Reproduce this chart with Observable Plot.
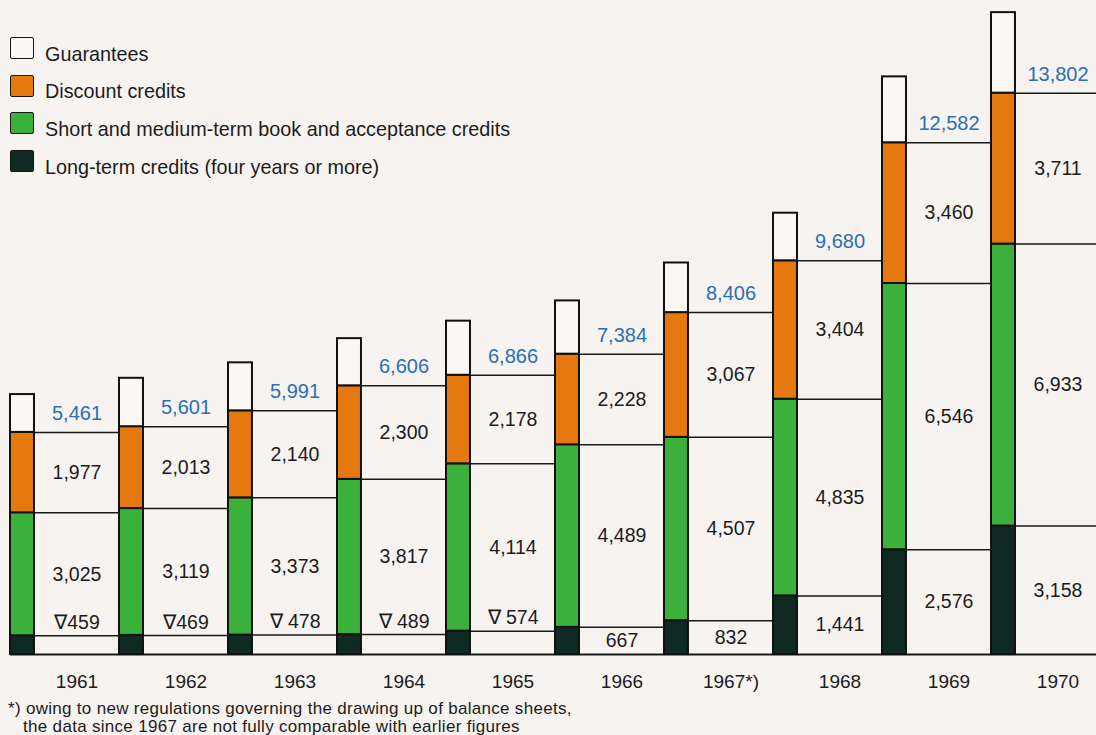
<!DOCTYPE html>
<html><head><meta charset="utf-8">
<script src="https://cdn.jsdelivr.net/npm/d3@7"></script>
<script src="https://cdn.jsdelivr.net/npm/@observablehq/plot@0.6"></script>
<style>
body{margin:0;background:#f7f3f1;font-family:"Liberation Sans",Arial,sans-serif;color:#1c1c1c}
#wrap{position:relative;width:1096px;height:735px;overflow:hidden;background:#f7f3f1}
#chart{position:absolute;left:0;top:0}
.row{position:absolute;left:10px;height:22px;width:600px}
.sw{position:absolute;left:0;top:0;width:22px;height:20px;border:1.6px solid #151515;border-radius:2px}
.lt{position:absolute;left:35px;top:5.5px;font-size:19.8px;line-height:22px;white-space:nowrap}
#foot{position:absolute;left:8px;top:700px;font-size:17px;line-height:18px;letter-spacing:0.3px;white-space:nowrap}
</style></head>
<body><div id="wrap"><div id="chart"></div><div id="legend"></div><div id="foot"></div></div>
<script>
const years = [1961,1962,1963,1964,1965,1966,1967,1968,1969,1970];
const yearLabels = ["1961","1962","1963","1964","1965","1966","1967*)","1968","1969","1970"];
const longTerm = [459,469,478,489,574,667,832,1441,2576,3158];
const shortMedium = [3025,3119,3373,3817,4114,4489,4507,4835,6546,6933];
const discount = [1977,2013,2140,2300,2178,2228,3067,3404,3460,3711];
const guarantees = [930,1190,1180,1160,1330,1310,1220,1170,1620,1980];
const totals = [5461,5601,5991,6606,6866,7384,8406,9680,12582,13802];
const seriesNames = ["Guarantees","Discount credits","Short and medium-term book and acceptance credits","Long-term credits (four years or more)"];
const seriesColors = ["#faf7f5","#e5780f","#3bb03a","#0f2a22"];
const footnote = ["*) owing to new regulations governing the drawing up of balance sheets,","&nbsp;&nbsp;&nbsp;the data since 1967 are not fully comparable with earlier figures"];

const BW = 0.22;           // bar width as fraction of a year slot
const mid = (1 + BW) / 2;  // centre of the label box
const fmt = d3.format(",");

const segs = [], lines = [], labels = [], ltLabels = [], totLabels = [];
years.forEach((y, i) => {
  const a = longTerm[i], b = a + shortMedium[i], c = b + discount[i], d = c + guarantees[i];
  segs.push({year:y, y1:0, y2:a, k:3});
  segs.push({year:y, y1:a, y2:b, k:2});
  segs.push({year:y, y1:b, y2:c, k:1});
  segs.push({year:y, y1:c, y2:d, k:0});
  [a, b, c].forEach(v => lines.push({year:y, v}));
  labels.push({year:y, v:(a+b)/2, t:fmt(shortMedium[i])});
  labels.push({year:y, v:(b+c)/2, t:fmt(discount[i])});
  if (longTerm[i] < 600) ltLabels.push({year:y, v:a, t:"∇" + (i>1 ? " " : "") + fmt(longTerm[i])});
  else labels.push({year:y, v:a/2, t:fmt(longTerm[i])});
  totLabels.push({year:y, v:c, t:fmt(totals[i])});
});

const chart = Plot.plot({
  width:1096, height:694,
  marginLeft:10, marginRight:-4, marginTop:0, marginBottom:40,
  style:{background:"transparent", fontFamily:"'Liberation Sans', Arial, sans-serif"},
  x:{domain:[1961,1971], axis:null},
  y:{domain:[0,16080], axis:null},
  marks:[
    Plot.ruleY(lines, {y:"v", x1:"year", x2:d=>d.year+1, stroke:"#1a1a1a", strokeWidth:1.5}),
    Plot.ruleY([0], {x1:years[0], x2:years[years.length-1]+1, stroke:"#1a1a1a", strokeWidth:1.8}),
    Plot.rect(segs, {x1:"year", x2:d=>d.year+BW, y1:"y1", y2:"y2", fill:d=>seriesColors[d.k], stroke:"#111", strokeWidth:2}),
    Plot.text(labels, {x:d=>d.year+mid, y:"v", text:"t", fontSize:19.5, fill:"#1c1c1c"}),
    Plot.text(ltLabels, {x:d=>d.year+mid, y:"v", text:"t", fontSize:19.5, fill:"#1c1c1c", dy:-13}),
    Plot.text(totLabels, {x:d=>d.year+mid, y:"v", text:"t", fontSize:20, fill:"#2a6fb5", dy:-19}),
    Plot.axisX(years.map(y=>y+mid), {tickSize:0, tickPadding:20, fontSize:19, fill:"#1c1c1c", label:null,
      tickFormat:(d)=>yearLabels[years.indexOf(Math.round(d-mid))]})
  ]
});
document.getElementById("chart").append(chart);

const leg = document.getElementById("legend");
seriesNames.forEach((n,i)=>{
  const r = document.createElement("div");
  r.className="row"; r.style.top=(37+i*37.7)+"px";
  r.innerHTML=`<div class="sw" style="background:${seriesColors[i]}"></div><span class="lt">${n}</span>`;
  leg.append(r);
});
document.getElementById("foot").innerHTML = footnote.join("<br>");
</script></body></html>
